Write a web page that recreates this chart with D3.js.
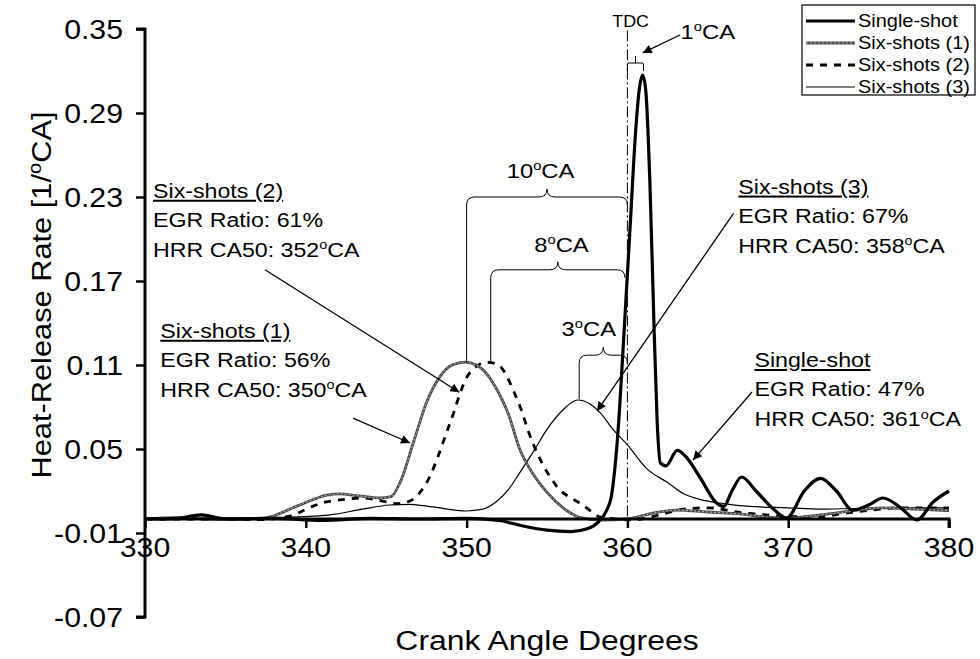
<!DOCTYPE html>
<html>
<head>
<meta charset="utf-8">
<script src="https://cdn.jsdelivr.net/npm/d3@7"></script>
<style>
  html, body { margin: 0; padding: 0; background: #fff; }
  svg { display: block; }
  text { font-family: "Liberation Sans", Arial, sans-serif; fill: #000; }
</style>
</head>
<body>
<svg id="chart" width="980" height="659"></svg>
<script>
// Crank angle grid (deg) and heat-release rate (1/degCA) for each injection strategy
const singleShotAngle = [330, 332, 333.5, 335, 338, 341, 344, 347, 350, 352, 353.5, 355, 356.5, 357.5, 358.2, 358.7, 359.0, 359.4, 359.8, 360.2, 360.5, 360.75, 360.95, 361.15, 361.4, 361.65, 361.85, 362.05, 362.4, 363.1, 363.6, 364.5, 365.5, 366.0, 366.5, 367.1, 368, 369, 369.9, 371, 372, 373, 374, 375, 375.9, 377, 378, 379, 380];
const singleShotHRR   = [0, 0.0005, 0.003, 0, 0.0005, -0.001, 0.0005, 0, 0.0005, -0.001, -0.005, -0.008, -0.009, -0.007, -0.002, 0.006, 0.016, 0.06, 0.135, 0.215, 0.275, 0.308, 0.317, 0.305, 0.24, 0.14, 0.07, 0.04, 0.038, 0.049, 0.045, 0.03, 0.012, 0.009, 0.02, 0.030, 0.02, 0.008, 0.0007, 0.02, 0.029, 0.02, 0.0064, 0.01, 0.015, 0.008, -0.0007, 0.012, 0.020];

const sixShots1Angle = [330, 332, 334, 336, 337.6, 338.4, 339.4, 340.4, 341.3, 342.1, 343.3, 344.6, 345.3, 345.9, 346.7, 347.5, 348.3, 349.1, 349.9, 350.6, 351.3, 352, 352.6, 353.3, 354.2, 355, 356, 357.1, 358.3, 360, 361.5, 363.1, 365, 366.6, 369.7, 372.8, 375.9, 378, 380];
const sixShots1HRR   = [0, 0.001, 0, 0, 0.001, 0.004, 0.009, 0.0136, 0.017, 0.018, 0.0165, 0.015, 0.016, 0.027, 0.055, 0.083, 0.101, 0.110, 0.112, 0.110, 0.103, 0.090, 0.075, 0.050, 0.031, 0.019, 0.008, 0.001, -0.0007, 0, 0.004, 0.0064, 0.005, 0.004, 0.0007, 0.004, 0.008, 0.007, 0.006];

const sixShots2Angle = [330, 334, 337, 339, 340.4, 341.2, 342.1, 343.5, 344.7, 345.7, 346.5, 347.1, 347.7, 348.2, 348.7, 349.2, 349.6, 350, 350.5, 351.2, 351.8, 352.3, 352.9, 353.4, 353.8, 354.6, 355.2, 355.8, 356.5, 357.1, 357.8, 358.3, 359.3, 360.3, 362, 363.5, 365.1, 366.8, 368.6, 371.8, 373.5, 374.9, 377, 380];
const sixShots2HRR   = [0, 0, -0.0005, 0.002, 0.009, 0.012, 0.0136, 0.015, 0.013, 0.011, 0.013, 0.019, 0.03, 0.044, 0.06, 0.076, 0.09, 0.101, 0.108, 0.112, 0.111, 0.106, 0.092, 0.078, 0.064, 0.042, 0.03, 0.0207, 0.015, 0.011, 0.005, 0.0014, 0, -0.0007, 0.003, 0.007, 0.008, 0.005, 0.003, 0.0014, 0.004, 0.006, 0.008, 0.008];

const sixShots3Angle = [330, 334, 338, 341.5, 343.5, 345.2, 346.5, 347.9, 350, 351, 351.8, 352.6, 353.3, 354.2, 355, 356, 356.9, 357.7, 358.3, 359.1, 360, 361.2, 362.5, 363.5, 364.5, 366, 367.6, 370, 372, 376, 380];
const sixShots3HRR   = [0, 0.0005, 0.001, 0.003, 0.007, 0.010, 0.0105, 0.0086, 0.0057, 0.007, 0.012, 0.021, 0.033, 0.049, 0.064, 0.078, 0.085, 0.082, 0.076, 0.064, 0.053, 0.036, 0.026, 0.018, 0.014, 0.011, 0.009, 0.008, 0.007, 0.008, 0.008];

const seriesNames = ["Single-shot", "Six-shots (1)", "Six-shots (2)", "Six-shots (3)"];
const xTicks = [330, 340, 350, 360, 370, 380];
const yTicks = [-0.07, -0.01, 0.05, 0.11, 0.17, 0.23, 0.29, 0.35];

// Operating-point notes: title, EGR ratio, HRR CA50
const noteTitles = ["Six-shots (2)", "Six-shots (1)", "Six-shots (3)", "Single-shot"];
const noteEGR    = [61, 56, 67, 47];
const noteCA50   = [352, 350, 358, 361];

const svg = d3.select("#chart");
const x = d3.scaleLinear().domain([330, 380]).range([145, 949]);
const y = d3.scaleLinear().domain([-0.07, 0.35]).range([617, 29]);

const FONT_STRETCH = 1.16;
const fmtY = v => d3.format(".2f")(v).replace("\u2212", "-");

// text helper: parts = [[string, isSuperscript], ...]
function label(g, px, py, parts, size, anchor, opts = {}) {
  const t = g.append("text")
    .attr("transform", `translate(${px},${py}) scale(${opts.stretch || FONT_STRETCH},1)`)
    .attr("font-size", size)
    .attr("text-anchor", anchor || "start")
    .attr("dy", "0.36em");
  if (opts.underline) t.style("text-decoration", "underline");
  let raised = false;
  parts.forEach(([s, sup]) => {
    const ts = t.append("tspan").text(s);
    if (sup) {
      ts.attr("font-size", size * 0.62).attr("dy", -size * 0.38);
      raised = true;
    } else if (raised) {
      ts.attr("dy", size * 0.38);
      raised = false;
    }
  });
  return t;
}

// ---- curves ----
const curves = svg.append("g");
const lineGen = d3.line().x(d => x(d[0])).y(d => y(d[1])).curve(d3.curveMonotoneX);
const zipSeries = (a, v) => a.map((d, i) => [d, v[i]]);

curves.append("path").datum(zipSeries(sixShots3Angle, sixShots3HRR))
  .attr("d", lineGen).attr("fill", "none").attr("stroke", "#000").attr("stroke-width", 1.2);
curves.append("path").datum(zipSeries(sixShots2Angle, sixShots2HRR))
  .attr("d", lineGen).attr("fill", "none").attr("stroke", "#000").attr("stroke-width", 2.8)
  .attr("stroke-dasharray", "7,7");
const s1 = zipSeries(sixShots1Angle, sixShots1HRR);
curves.append("path").datum(s1)
  .attr("d", lineGen).attr("fill", "none").attr("stroke", "#4a4a4a").attr("stroke-width", 2.8);
curves.append("path").datum(s1)
  .attr("d", lineGen).attr("fill", "none").attr("stroke", "#b8b8b8").attr("stroke-width", 1)
  .attr("stroke-dasharray", "2,2");
curves.append("path").datum(zipSeries(singleShotAngle, singleShotHRR))
  .attr("d", lineGen).attr("fill", "none").attr("stroke", "#000").attr("stroke-width", 3.2)
  .attr("stroke-linejoin", "round");

// ---- axes ----
const yAxis = svg.append("g").attr("transform", `translate(${x(330)},0)`)
  .call(d3.axisLeft(y).tickValues(yTicks).tickSize(9));
yAxis.select(".domain").attr("stroke-width", 3).attr("d", `M-9,${y(0.35)}H0V${y(-0.07)}H-9`);
yAxis.selectAll(".tick line").attr("stroke-width", 2.5);
yAxis.selectAll(".tick text").remove();
yTicks.forEach(v => label(svg, x(330) - 22, y(v), [[fmtY(v)]], 27.5, "end", { stretch: 1.1 }));

const xAxis = svg.append("g").attr("transform", `translate(0,${y(0)})`)
  .call(d3.axisBottom(x).tickValues(xTicks).tickSize(9));
xAxis.select(".domain").attr("stroke-width", 3).attr("d", `M${x(330)},0H${x(380)}V9`);
xAxis.selectAll(".tick line").attr("stroke-width", 2.5);
xAxis.selectAll(".tick text").remove();
xTicks.forEach(v => label(svg, x(v), y(0) + 28, [[String(v)]], 27.5, "middle", { stretch: 1.1 }));

// axis titles
label(svg, x(355), 640, [["Crank Angle Degrees"]], 28, "middle", { stretch: 1.14 });
const yt = svg.append("text")
  .attr("transform", `translate(41,${(y(0.35) + y(-0.07)) / 2 - 28}) rotate(-90) scale(1.12,1)`)
  .attr("font-size", 27.5).attr("text-anchor", "middle").attr("dy", "0.36em");
yt.append("tspan").text("Heat-Release Rate [1/");
yt.append("tspan").attr("font-size", 18).attr("dy", -10).text("o");
yt.append("tspan").attr("dy", 10).text("CA]");

// ---- TDC marker ----
const ann = svg.append("g").attr("fill", "none").attr("stroke", "#000").attr("stroke-width", 1);
ann.append("line").attr("x1", x(360)).attr("x2", x(360)).attr("y1", y(0.349)).attr("y2", y(0))
  .attr("stroke-dasharray", "11,3,2,3");
label(svg, x(360.2), y(0.356), [["TDC"]], 17, "middle", { stretch: 1.05 });

// ---- interval braces ----
function brace(a0, a1, v, h) {
  const x0 = x(a0), x1 = x(a1), yy = y(v), xm = (x0 + x1) / 2;
  return `M${x0},${yy + h}Q${x0},${yy} ${x0 + h},${yy}L${xm - h},${yy}Q${xm},${yy} ${xm},${yy - h}` +
         `Q${xm},${yy} ${xm + h},${yy}L${x1 - h},${yy}Q${x1},${yy} ${x1},${yy + h}`;
}
// narrow square bracket with a centre tick
function squareBracket(a0, a1, v, h) {
  const x0 = x(a0), x1 = x(a1), yy = y(v), xm = (x0 + x1) / 2;
  return `M${x0},${yy + h}V${yy + 1}Q${x0},${yy} ${x0 + 1.5},${yy}H${x1 - 1.5}Q${x1},${yy} ${x1},${yy + 1}V${yy + h}` +
         `M${xm},${yy}V${yy - h + 1}`;
}
const braceFrom  = [350, 351.5, 357, 360];
const braceTo    = [360, 359.85, 360, 361];
const braceLevel = [0.230, 0.178, 0.117, 0.3257];
const braceDrop  = [0.1115, 0.1125, 0.0855, null];
const braceText  = ["10", "8", "3", "1"];
const braceTextAt = [[354.6, 0.249], [355.9, 0.196], [357.6, 0.136], [365.0, 0.348]];
braceFrom.forEach((a0, i) => {
  if (i === 3) {
    ann.append("path").attr("d", squareBracket(a0, braceTo[i], braceLevel[i], 8));
  } else {
    ann.append("path").attr("d", brace(a0, braceTo[i], braceLevel[i], 8));
    ann.append("line").attr("x1", x(a0)).attr("x2", x(a0))
      .attr("y1", y(braceLevel[i]) + 8).attr("y2", y(braceDrop[i]));
  }
  label(svg, x(braceTextAt[i][0]), y(braceTextAt[i][1]), [[braceText[i]], ["o", true], ["CA"]], 20.5, "middle");
});

// ---- arrows ----
svg.append("defs").append("marker").attr("id", "head")
  .attr("viewBox", "0 0 10 10").attr("refX", 10).attr("refY", 5)
  .attr("markerWidth", 13).attr("markerHeight", 9).attr("markerUnits", "userSpaceOnUse")
  .attr("orient", "auto")
  .append("path").attr("d", "M0,0L10,5L0,10Z").attr("fill", "#000");
const arrowFrom = [[337.46, 0.178], [342.94, 0.0721], [366.6, 0.2183], [367.75, 0.0907], [363.27, 0.3457]];
const arrowTo   = [[349.55, 0.0905], [346.48, 0.0543], [358.11, 0.0771], [364.08, 0.0421], [360.95, 0.3329]];
arrowFrom.forEach((p, i) => {
  ann.append("line").attr("x1", x(p[0])).attr("y1", y(p[1]))
    .attr("x2", x(arrowTo[i][0])).attr("y2", y(arrowTo[i][1]))
    .attr("stroke-width", 1.3).attr("marker-end", "url(#head)");
});

// ---- operating-point notes ----
const noteAt = [[330.5, 0.2345], [330.95, 0.1345], [366.9, 0.2375], [367.9, 0.1136]];
noteTitles.forEach((t, i) => {
  const px = x(noteAt[i][0]), py = y(noteAt[i][1]);
  label(svg, px, py, [[t]], 20, "start", { underline: true });
  label(svg, px, py + 29, [[`EGR Ratio: ${noteEGR[i]}%`]], 20, "start");
  label(svg, px, py + 59, [[`HRR CA50: ${noteCA50[i]}`], ["o", true], ["CA"]], 20, "start");
});

// ---- legend ----
const lg = svg.append("g");
lg.append("rect").attr("x", 802).attr("y", 5).attr("width", 173).attr("height", 90)
  .attr("fill", "#fff").attr("stroke", "#000").attr("stroke-width", 1.2);
const legendStyle = [
  { w: 3.2, c: "#000", dash: null },
  { w: 2.8, c: "#4a4a4a", dash: null, overlay: true },
  { w: 2.8, c: "#000", dash: "7,7" },
  { w: 1.2, c: "#000", dash: null }
];
seriesNames.forEach((n, i) => {
  const yy = 21 + i * 22;
  const st = legendStyle[i];
  const ln = lg.append("line").attr("x1", 806).attr("x2", 855).attr("y1", yy).attr("y2", yy)
    .attr("stroke", st.c).attr("stroke-width", st.w);
  if (st.dash) ln.attr("stroke-dasharray", st.dash);
  if (st.overlay) {
    lg.append("line").attr("x1", 806).attr("x2", 855).attr("y1", yy).attr("y2", yy)
      .attr("stroke", "#b8b8b8").attr("stroke-width", 1).attr("stroke-dasharray", "2,2");
  }
  label(lg, 858, yy, [[n]], 17.5, "start", { stretch: 1.14 });
});
</script>
</body>
</html>
